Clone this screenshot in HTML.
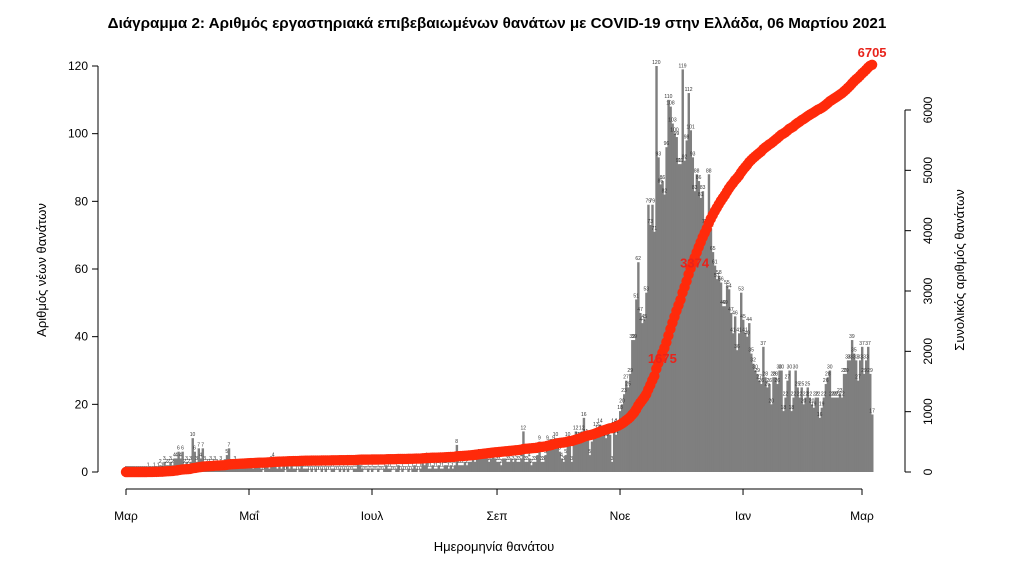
<!DOCTYPE html>
<html><head><meta charset="utf-8"><style>
body{margin:0;background:#fff;}
svg{display:block;font-family:"Liberation Sans","DejaVu Sans",sans-serif;}
</style></head><body>
<svg id="chart" width="1016" height="565" viewBox="0 0 1016 565">
<text x="497" y="28" text-anchor="middle" font-size="15.2" font-weight="bold">Διάγραμμα 2: Αριθμός εργαστηριακά επιβεβαιωμένων θανάτων με COVID-19 στην Ελλάδα, 06 Μαρτίου 2021</text>
<g id="bars"></g>
<g id="barlabels"></g>
<g id="cum"></g>
<g id="axes"></g>
<text x="0" y="0" transform="translate(46,270) rotate(-90)" text-anchor="middle" font-size="13">Αριθμός νέων θανάτων</text>
<text x="0" y="0" transform="translate(964,270) rotate(-90)" text-anchor="middle" font-size="13">Συνολικός αριθμός θανάτων</text>
<text x="494" y="551" text-anchor="middle" font-size="13">Ημερομηνία θανάτου</text>
</svg>
<script>
// daily deaths, from 2020-03-01 to 2021-03-06
const mar20=[0,0,0,0,0,0,0,0,0,0,0,1,0,0,1,0,1,2,1,3,2,2,3,2,4,4,6,4,6,2,3];
const apr20=[2,3,10,6,3,7,4,7,3,2,2,3,2,3,2,1,3,1,2,5,7,2,2,3,1,2,2,2,2,2];
const may20=[2,2,1,2,2,2,1,0,2,2,1,3,4,2,1,2,1,2,0,2,1,2,1,1,0,1,2,1,1,1,0];
const jun20=[1,0,1,0,0,1,0,1,0,0,1,1,0,0,1,0,1,0,1,0,0,1,1,3,2,1,0,0,1,0];
const jul20=[1,0,0,1,0,0,1,2,1,1,0,0,1,2,0,1,0,0,1,0,1,2,1,0,1,3,2,4,1,1,2];
const aug20=[1,1,2,1,1,2,2,1,2,1,2,8,2,2,2,3,2,3,3,4,3,4,5,4,4,5,4,3,4,5,4];
const sep20=[3,3,2,4,4,3,3,4,3,4,3,3,4,12,3,3,4,2,3,3,5,9,3,3,5,9,8,8,9,10];
const oct20=[8,6,4,3,5,10,8,3,9,12,10,10,12,16,11,10,5,9,10,13,12,14,12,11,10,12,11,3,14,11,14];
const nov20=[18,20,23,27,25,29,39,39,51,62,47,44,45,53,79,73,79,71,120,93,85,86,82,96,110,108,103,100,99,91];
const dec20=[91,119,92,98,112,101,93,83,88,86,81,83,73,73,88,72,65,61,57,58,56,49,49,55,54,47,41,46,36,41,53];
const jan21=[45,41,40,44,35,32,30,29,27,26,37,28,25,26,20,28,28,26,30,30,18,22,27,30,18,22,30,25,22,25,20];
const feb21=[22,25,22,20,19,22,22,16,19,22,26,28,30,22,22,22,22,23,22,29,29,33,33,39,35,33,27,33];
const mar21=[37,29,33,37,29,17];
const leftTicks=[0,20,40,60,80,100,120];
const rightTicks=[0,1000,2000,3000,4000,5000,6000];
const monthLabels=["Μαρ","Μαΐ","Ιουλ","Σεπ","Νοε","Ιαν","Μαρ"];
const monthDays=[0,61,122,184,245,306,365];
const cumLabelText=["1675","3374","6705"];
const cumLabelDays=[265,281,370];

const daily=[].concat(mar20,apr20,may20,jun20,jul20,aug20,sep20,oct20,nov20,dec20,jan21,feb21,mar21);
const NS="http://www.w3.org/2000/svg";
const X0=126,X1=862,Y0=472;
function x(d){return X0+d*(X1-X0)/365;}
function yL(v){return Y0-v*(Y0-66)/120;}
function yR(v){return Y0-v*(Y0-110)/6000;}
function mk(tag,attrs,parent){const e=document.createElementNS(NS,tag);for(const k in attrs)e.setAttribute(k,attrs[k]);parent.appendChild(e);return e;}
const bw=(X1-X0)/365;
const gB=document.getElementById('bars'),gL=document.getElementById('barlabels'),gC=document.getElementById('cum'),gA=document.getElementById('axes');
daily.forEach((v,i)=>{
  if(v>0){const r=mk('rect',{x:x(i)-bw/2,y:yL(v),width:bw+0.4,height:Y0-yL(v),fill:'#7f7f7f'},gB);
  
  }
  const t=mk('text',{x:x(i),y:yL(v)-2,'text-anchor':'middle','font-size':'5','fill':'#333'},gL);
  
  
  t.textContent=v;
});
let c=0;
daily.forEach((v,i)=>{c+=v;
  const p=mk('circle',{cx:x(i),cy:yR(c),r:5.2,fill:'#ff2a0a'},gC);
  
  
});
cumLabelDays.forEach((d,k)=>{
  let s=0;for(let i=0;i<=Math.min(d,daily.length-1);i++)s+=daily[i];
  const t=mk('text',{x:x(d)+(k==2?0:2),y:(k==2?yR(s)-8:yR(s)+5),'text-anchor':'middle','font-size':'13','font-weight':'bold',fill:'#e8231b'},gC);
  
  
  t.textContent=cumLabelText[k];
});
// left axis
mk('line',{x1:98,y1:yL(0),x2:98,y2:yL(120),stroke:'#000'},gA);
leftTicks.forEach(v=>{
  mk('line',{x1:92,y1:yL(v),x2:98,y2:yL(v),stroke:'#000'},gA);
  const t=mk('text',{x:88,y:yL(v)+4,'text-anchor':'end','font-size':'12'},gA);
  
  
  t.textContent=v;
});
// right axis
mk('line',{x1:905,y1:yR(0),x2:905,y2:yR(6000),stroke:'#000'},gA);
rightTicks.forEach(v=>{
  mk('line',{x1:905,y1:yR(v),x2:911,y2:yR(v),stroke:'#000'},gA);
  const t=mk('text',{x:0,y:0,transform:'translate(932,'+yR(v)+') rotate(-90)','text-anchor':'middle','font-size':'12'},gA);
  
  
  t.textContent=v;
});
// x axis
mk('line',{x1:x(0),y1:489,x2:x(365),y2:489,stroke:'#000'},gA);
monthDays.forEach((d,k)=>{
  mk('line',{x1:x(d),y1:489,x2:x(d),y2:495,stroke:'#000'},gA);
  const t=mk('text',{x:x(d),y:520,'text-anchor':'middle','font-size':'12'},gA);
  
  
  t.textContent=monthLabels[k];
});
</script>
</body></html>
